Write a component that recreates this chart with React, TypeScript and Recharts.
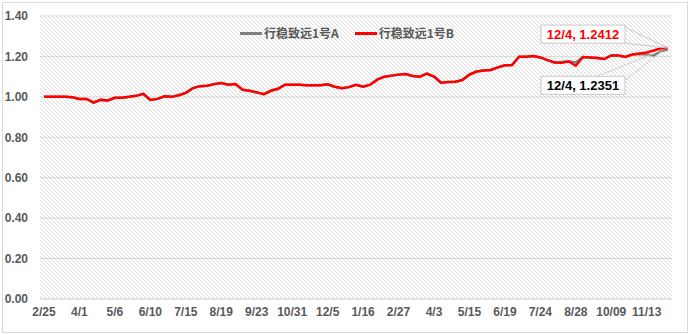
import React from "react";
import {
  CartesianGrid,
  Line,
  LineChart,
  XAxis,
  YAxis,
} from "recharts";

// weekly dates (x categories)
const dates = [
  "2/25", "3/4", "3/11", "3/18", "3/25", "4/1", "4/8", "4/15", "4/22", "4/29",
  "5/6", "5/13", "5/20", "5/27", "6/3", "6/10", "6/17", "6/24", "7/1", "7/8",
  "7/15", "7/22", "7/29", "8/5", "8/12", "8/19", "8/26", "9/2", "9/9", "9/16",
  "9/23", "9/30", "10/10", "10/17", "10/24", "10/31", "11/7", "11/14", "11/21", "11/28",
  "12/5", "12/12", "12/19", "12/26", "1/9", "1/16", "1/23", "1/30", "2/6", "2/20",
  "2/27", "3/6", "3/13", "3/20", "3/27", "4/3", "4/10", "4/17", "4/24", "5/8",
  "5/15", "5/22", "5/29", "6/5", "6/12", "6/19", "6/26", "7/3", "7/10", "7/17",
  "7/24", "7/31", "8/7", "8/14", "8/21", "8/28", "9/4", "9/11", "9/18", "9/25",
  "10/09", "10/16", "10/23", "10/30", "11/6", "11/13", "11/20", "11/27", "12/4",
];

// 行稳致远1号B (red)
const seriesB = [
  1.0, 1.0, 1.0, 1.0, 0.998, 0.99, 0.99, 0.972, 0.985, 0.982,
  0.995, 0.996, 1.0, 1.005, 1.015, 0.985, 0.99, 1.003, 1.0, 1.008,
  1.02, 1.043, 1.053, 1.055, 1.063, 1.068, 1.06, 1.063, 1.035, 1.03,
  1.022, 1.013, 1.03, 1.04, 1.06, 1.06, 1.06, 1.057, 1.057, 1.057,
  1.062, 1.05, 1.043, 1.048, 1.06, 1.05, 1.06, 1.085, 1.1, 1.105,
  1.11, 1.113, 1.103, 1.1, 1.115, 1.1, 1.07, 1.073, 1.075, 1.083,
  1.11, 1.125, 1.13, 1.133, 1.146, 1.156, 1.157, 1.199, 1.199, 1.202,
  1.195, 1.182, 1.17, 1.169, 1.175, 1.154, 1.197, 1.195, 1.192, 1.187,
  1.205, 1.205, 1.197, 1.21, 1.215, 1.22, 1.229, 1.24, 1.2412,
];

// 行稳致远1号A (gray)
const seriesA = [
  1.0, 1.0, 1.0, 1.0, 0.998, 0.99, 0.99, 0.972, 0.985, 0.982,
  0.995, 0.996, 1.0, 1.005, 1.015, 0.985, 0.99, 1.003, 1.0, 1.008,
  1.02, 1.043, 1.053, 1.055, 1.063, 1.068, 1.06, 1.063, 1.035, 1.03,
  1.022, 1.013, 1.03, 1.04, 1.06, 1.06, 1.06, 1.057, 1.057, 1.057,
  1.062, 1.05, 1.043, 1.048, 1.06, 1.05, 1.06, 1.085, 1.1, 1.105,
  1.11, 1.113, 1.103, 1.1, 1.115, 1.1, 1.07, 1.073, 1.075, 1.083,
  1.11, 1.125, 1.13, 1.133, 1.146, 1.156, 1.157, 1.199, 1.199, 1.202,
  1.195, 1.182, 1.17, 1.172, 1.176, 1.17, 1.197, 1.195, 1.192, 1.187,
  1.205, 1.205, 1.197, 1.21, 1.212, 1.21, 1.205, 1.225, 1.2351,
];

const yTicks = [0, 0.2, 0.4, 0.6, 0.8, 1.0, 1.2, 1.4];

const nameA = "行稳致远1号A";
const nameB = "行稳致远1号B";

const data = dates.map((d, i) => ({ date: d, a: seriesA[i], b: seriesB[i] }));

const tickStyle = {
  fill: "#595959",
  fontSize: 12,
  fontWeight: 700,
  fontFamily: "'Liberation Sans', Arial, sans-serif",
};

// callout label drawn only at the last point
const makeLabel = (color: string, above: boolean) => (props: any) => {
  const { x, y, index, value } = props;
  if (index !== data.length - 1) return null;
  const bx = x - 127;
  const by = above ? y - 23 : y + 27;
  const bw = 84;
  const bh = 18;
  const text = `${dates[index]}, ${Number(value).toFixed(4)}`;
  return (
    <g>
      {above ? (
        <>
          <line x1={bx + bw} y1={by + 2} x2={x} y2={y} stroke="#c8c8c8" />
          <line x1={bx + bw} y1={by + bh} x2={x} y2={y} stroke="#c8c8c8" />
        </>
      ) : (
        <>
          <line x1={bx + 56} y1={by} x2={x - 14} y2={y + 4} stroke="#d0d0d0" />
          <line x1={bx + bw} y1={by + 4} x2={x - 6} y2={y + 2} stroke="#d0d0d0" />
        </>
      )}
      <rect x={bx} y={by} width={bw} height={bh} fill="#fff" stroke="#c8c8c8" />
      <text
        x={bx + bw / 2}
        y={by + bh / 2 + 5}
        textAnchor="middle"
        fill={color}
        fontSize={13}
        fontWeight={700}
        fontFamily="'Liberation Sans', Arial, sans-serif"
      >
        {text}
      </text>
    </g>
  );
};

const legendItems = [
  { name: nameA, color: "#808080" },
  { name: nameB, color: "#ff0000" },
];

export default function App() {
  return (
    <div style={{ position: "relative", width: 690, height: 334, background: "#fff" }}>
      <style>{`body{margin:0}`}</style>
      <div
        style={{
          position: "absolute",
          left: 2,
          top: 2,
          width: 686,
          height: 331,
          boxSizing: "border-box",
          border: "1px solid #d9d9d9",
        }}
      />
      <LineChart
        width={690}
        height={334}
        data={data}
        margin={{ top: 16, right: 18, left: 0, bottom: 10 }}
        style={{ position: "absolute", left: 0, top: 0 }}
      >
        <defs>
          <pattern id="hatch" width="4" height="4" patternUnits="userSpaceOnUse">
            <path d="M-1,-1 L1,1 M0,0 L4,4 M3,3 L5,5" stroke="#dadada" strokeWidth={1} />
          </pattern>
        </defs>
        <CartesianGrid
          vertical={false}
          stroke="#d9d9d9"
          fill="url(#hatch)"
          fillOpacity={1}
        />
        <XAxis
          dataKey="date"
          interval={4}
          height={25}
          tickLine={false}
          tickSize={0}
          tickMargin={8}
          axisLine={{ stroke: "#d9d9d9" }}
          padding={{ left: 4, right: 4 }}
          tick={tickStyle}
        />
        <YAxis
          width={40}
          domain={[0, 1.4]}
          ticks={yTicks}
          tickFormatter={(v: number) => v.toFixed(2)}
          axisLine={false}
          tickLine={false}
          tickSize={6}
          tickMargin={6}
          tick={tickStyle}
        />
        <Line
          type="linear"
          dataKey="a"
          name={nameA}
          stroke="#808080"
          strokeWidth={2.5}
          dot={false}
          label={makeLabel("#000000", false)}
          isAnimationActive={false}
        />
        <Line
          type="linear"
          dataKey="b"
          name={nameB}
          stroke="#ff0000"
          strokeWidth={2.5}
          dot={false}
          label={makeLabel("#ff0000", true)}
          isAnimationActive={false}
        />
      </LineChart>
      {/* legend sits on top of the plot, as in the original */}
      <div
        style={{
          position: "absolute",
          left: 240,
          top: 24,
          display: "flex",
          gap: 16,
          fontFamily: "'Noto Sans CJK SC', sans-serif",
          fontSize: 12,
          fontWeight: 700,
          color: "#595959",
          lineHeight: "18px",
        }}
      >
        {legendItems.map((it) => (
          <div key={it.name} style={{ display: "flex", alignItems: "center" }}>
            <span
              style={{
                display: "inline-block",
                width: 22,
                height: 3,
                background: it.color,
                marginRight: 2,
              }}
            />
            <span>{it.name}</span>
          </div>
        ))}
      </div>
    </div>
  );
}
